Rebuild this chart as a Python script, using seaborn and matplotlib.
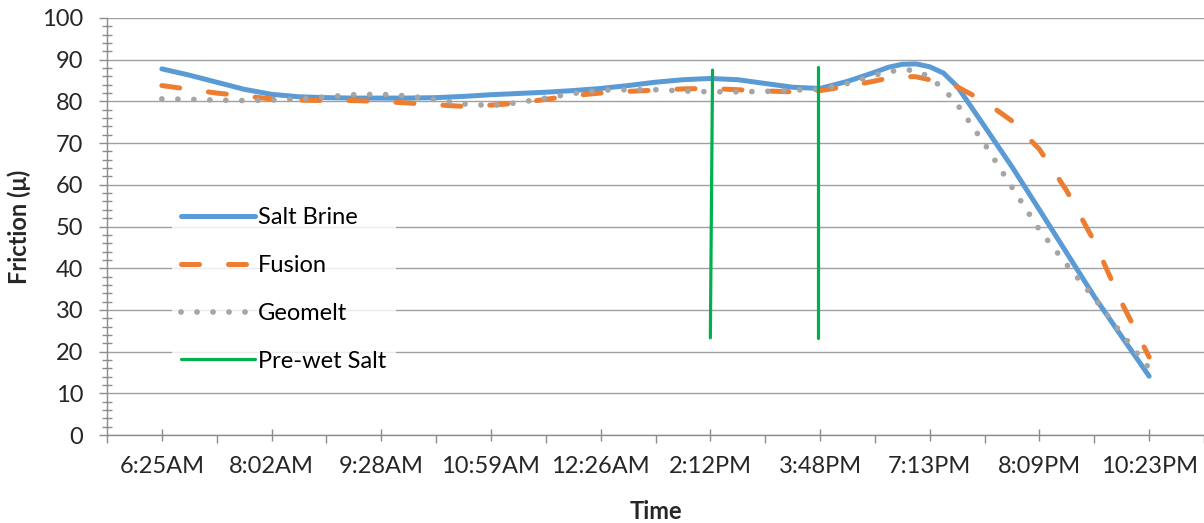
import numpy as np
import pandas as pd
import matplotlib
matplotlib.use("Agg")
import matplotlib.pyplot as plt
import seaborn as sns
from matplotlib.ticker import MultipleLocator, FixedLocator

# ---------------- data ----------------
time_labels = ["6:25AM", "8:02AM", "9:28AM", "10:59AM", "12:26AM",
               "2:12PM", "3:48PM", "7:13PM", "8:09PM", "10:23PM"]

# sample positions on the category axis (between label positions)
positions = [0.0, 0.25, 0.5, 0.75, 1.0, 1.25, 1.5, 1.75, 2.0, 2.25,
             2.5, 2.75, 3.0, 3.25, 3.5, 3.75, 4.0, 4.25, 4.5, 4.75,
             5.0, 5.25, 5.5, 5.75, 6.0, 6.25, 6.5, 6.625, 6.75, 6.875,
             7.0, 7.125, 7.25, 7.5, 7.75, 8.0, 8.25, 8.5, 8.75, 9.0]

salt_brine = [87.8, 86.3, 84.6, 82.9, 81.7, 81.1, 80.9, 80.8, 80.8, 80.8,
              80.9, 81.2, 81.6, 81.9, 82.2, 82.6, 83.1, 83.8, 84.6, 85.2,
              85.5, 85.2, 84.3, 83.4, 83.1, 84.8, 87.0, 88.2, 88.9, 89.0,
              88.3, 86.8, 83.6, 74.0, 64.3, 54.0, 43.6, 33.2, 23.6, 14.1]
fusion = [83.8, 82.9, 82.0, 81.3, 80.6, 80.3, 80.2, 80.2, 80.0, 79.6,
          79.2, 78.8, 79.1, 79.6, 80.5, 81.4, 82.0, 82.4, 82.7, 83.0,
          83.1, 82.8, 82.5, 82.3, 82.6, 83.6, 84.9, 85.6, 86.0, 85.9,
          85.2, 84.6, 83.5, 80.0, 75.3, 68.5, 58.5, 46.4, 31.7, 18.7]
geomelt = [80.6, 80.5, 80.3, 80.2, 80.3, 80.6, 81.1, 81.6, 81.7, 81.3,
           80.4, 79.4, 79.0, 79.7, 80.8, 81.9, 82.7, 82.8, 82.8, 82.5,
           82.3, 82.3, 82.4, 82.7, 82.9, 84.3, 86.3, 87.1, 87.6, 87.4,
           85.8, 83.0, 79.3, 69.8, 59.4, 49.2, 40.8, 32.8, 24.3, 16.0]

# Pre-wet salt application markers (two vertical segments)
prewet_seg = [1, 1, 2, 2]
prewet_pos = [5.0, 5.02, 5.98, 5.98]
prewet_val = [23.3, 87.5, 23.3, 88.2]

colors = {"Salt Brine": "#5B9BD5", "Fusion": "#ED7D31",
          "Geomelt": "#A5A5A5", "Pre-wet Salt": "#00B050"}

df = pd.concat([
    pd.DataFrame({"pos": positions, "friction": salt_brine, "series": "Salt Brine"}),
    pd.DataFrame({"pos": positions, "friction": fusion, "series": "Fusion"}),
    pd.DataFrame({"pos": positions, "friction": geomelt, "series": "Geomelt"}),
], ignore_index=True)
df_pw = pd.DataFrame({"pos": prewet_pos, "friction": prewet_val, "seg": prewet_seg})

# ---------------- style ----------------
sns.set_theme(style="white")
plt.rcParams["font.family"] = ["Lato", "DejaVu Sans"]
plt.rcParams["text.color"] = "#000000"

W, H = 1204, 523
fig = plt.figure(figsize=(W / 100, H / 100), dpi=100)
ax = fig.add_axes([107 / W, 1 - 435 / H, (W - 107) / W, 417 / H])

lw = 3.6
sns.lineplot(data=df[df.series == "Salt Brine"], x="pos", y="friction",
             color=colors["Salt Brine"], linewidth=lw, estimator=None, sort=False,
             label="Salt Brine", ax=ax)
l = ax.lines[-1]
l.set_solid_capstyle("round")
l.set_solid_joinstyle("round")

sns.lineplot(data=df[df.series == "Fusion"], x="pos", y="friction",
             color=colors["Fusion"], linewidth=lw, estimator=None, sort=False,
             label="Fusion", ax=ax)
l = ax.lines[-1]
l.set_dashes((3.6, 5.8))
l.set_dash_capstyle("round")
l.set_dash_joinstyle("round")

sns.lineplot(data=df[df.series == "Geomelt"], x="pos", y="friction",
             color=colors["Geomelt"], linewidth=4.1, estimator=None, sort=False,
             label="Geomelt", ax=ax)
l = ax.lines[-1]
l.set_dashes((0.01, 2.8))
l.set_dash_capstyle("round")

for k, seg in enumerate(sorted(set(prewet_seg))):
    sns.lineplot(data=df_pw[df_pw.seg == seg], x="pos", y="friction",
                 color=colors["Pre-wet Salt"], linewidth=2.3, estimator=None, sort=False,
                 label="Pre-wet Salt" if k == 0 else "_nolegend_", ax=ax)

# ---------------- axes ----------------
ax.set_xlim(-0.5, 9.5)
ax.set_ylim(0, 100)
axis_gray = "#8C8C8C"
for s in ["top", "right"]:
    ax.spines[s].set_visible(False)
for s in ["left", "bottom"]:
    ax.spines[s].set_color(axis_gray)
    ax.spines[s].set_linewidth(1.0)

ax.yaxis.set_major_locator(MultipleLocator(10))
ax.yaxis.set_minor_locator(MultipleLocator(2))
ax.grid(axis="y", which="major", color="#A0A0A0", linewidth=1.0)
ax.set_axisbelow(True)

ax.xaxis.set_major_locator(FixedLocator(list(range(len(time_labels)))))
ax.set_xticklabels(time_labels)
ax.xaxis.set_minor_locator(FixedLocator([i - 0.5 for i in range(len(time_labels) + 1)]))

fs = 17
ax.tick_params(axis="y", which="major", direction="out", length=6, width=1,
               color=axis_gray, labelsize=fs, pad=11, left=True)
ax.tick_params(axis="y", which="minor", direction="inout", length=7, width=1,
               color=axis_gray, left=True)
ax.tick_params(axis="x", which="major", direction="inout", length=9, width=1,
               color=axis_gray, labelsize=fs, pad=10.5, bottom=True)
ax.tick_params(axis="x", which="minor", direction="out", length=6, width=1,
               color=axis_gray, bottom=True)

ax.set_xlabel("Time", fontsize=fs, fontweight="bold", labelpad=16.5)
ax.set_ylabel("Friction (\u03bc)", fontsize=fs, fontweight="bold", labelpad=8)

handles, labels = ax.get_legend_handles_labels()
leg = ax.legend(handles, labels, loc="upper left",
                bbox_to_anchor=((172 - 107) / 1097, (435 - 197.5) / 417),
                frameon=True, fancybox=False, framealpha=0.8, edgecolor="none",
                facecolor="white", fontsize=fs, handlelength=3.1,
                handletextpad=0.15, labelspacing=1.14, borderpad=0.4,
                borderaxespad=0)

fig.savefig("out.png", dpi=100)
